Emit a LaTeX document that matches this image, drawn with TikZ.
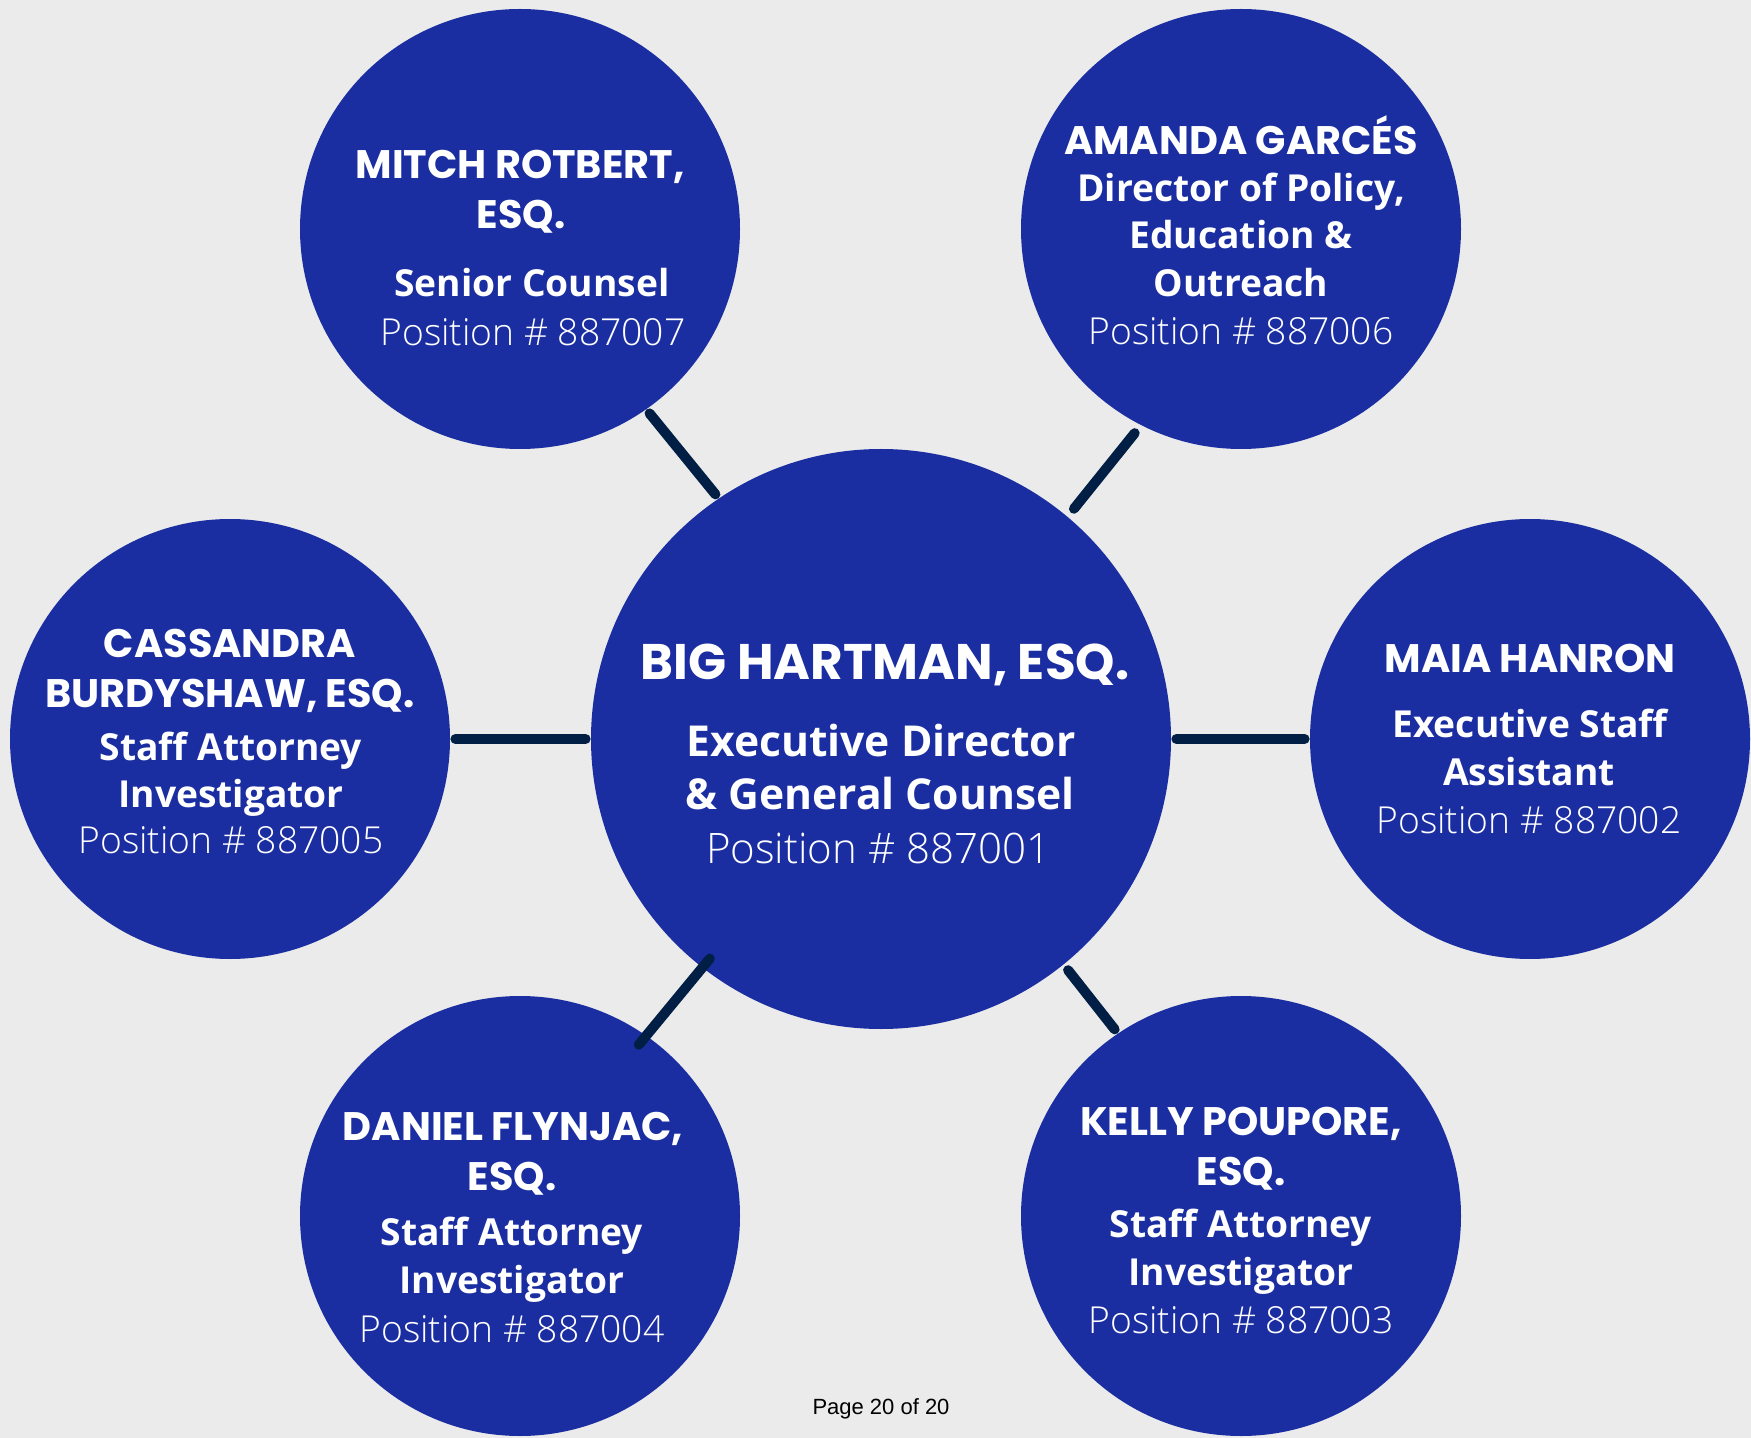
\documentclass[tikz,border=0pt]{standalone}
\usepackage{fontspec}
\setmainfont{Open Sans}
\newfontfamily\poppins{Poppins}[UprightFont=* Bold]
\newfontfamily\osbold{Open Sans}[UprightFont=* Bold]
\newfontfamily\oslight{Open Sans Light}
\newfontfamily\arialish{Liberation Sans}
\definecolor{bgc}{RGB}{235,235,235}
\definecolor{bub}{RGB}{27,46,161}
\definecolor{lnc}{RGB}{1,30,69}
\pgfdeclarelayer{bg}
\pgfsetlayers{bg,main}
\tikzset{
  bubble/.style={circle, fill=bub, draw=none, inner sep=0pt, minimum size=220pt},
  bigbubble/.style={bubble, minimum size=290pt},
  conn/.style={draw=lnc, line width=5pt, line cap=round},
  tx/.style={text=white, inner sep=0pt, anchor=base},
  nmS/.style={tx, font=\poppins\fontsize{19.9}{21}\selectfont},
  nmL/.style={tx, font=\poppins\fontsize{25}{26}\selectfont},
  tiS/.style={tx, font=\osbold\fontsize{18.6}{20}\selectfont},
  tiL/.style={tx, font=\osbold\fontsize{21.3}{22}\selectfont},
  poS/.style={tx, font=\oslight\fontsize{18.6}{20}\selectfont},
  poL/.style={tx, font=\oslight\fontsize{21}{22}\selectfont},
}
\begin{document}
\begin{tikzpicture}[x=0.5pt,y=-0.5pt]
\begin{pgfonlayer}{bg}
\fill[bgc] (0,0) rectangle (1751,1438);
\end{pgfonlayer}
\useasboundingbox (0,0) rectangle (1751,1438);

% bubbles
\node[bigbubble] (c) at (881,739) {};
\node[bubble] (m) at (520,229) {};
\node[bubble] (a) at (1241,229) {};
\node[bubble] (l) at (230,739) {};
\node[bubble] (r) at (1530,739) {};
\node[bubble] (d) at (520,1216) {};
\node[bubble] (k) at (1241,1216) {};

% connectors
\draw[conn, shorten <=2.5pt, shorten >=2.5pt] (c.124.6) -- (m.-55.5);
\draw[conn, shorten <=5pt, shorten >=5pt] (c.50.2) -- (a.243.6);
\draw[conn, shorten <=2.5pt, shorten >=2.5pt] (c.west) -- (l.east);
\draw[conn, shorten <=2.5pt, shorten >=2.5pt] (c.east) -- (r.west);
\draw[conn, shorten <=-6pt, shorten >=-6pt] (c.232.6) -- (d.55.2);
\draw[conn, shorten <=3.5pt, shorten >=2.5pt] (c.-51.2) -- (k.124.5);

% center
\node[nmL] (c1) at (885,679) {BIG HARTMAN, ESQ.};
\node[tiL] (c2) at (881,756) {Executive Director};
\node[tiL] (c3) at (880,809) {\& General Counsel};
\node[poL] (c4) at (878,863) {Position \# 887001};

% Mitch
\node[nmS] (m1) at (520,179) {MITCH ROTBERT,};
\node[nmS] (m2) at (521,229) {ESQ.};
\node[tiS] (m3) at (532,297) {Senior Counsel};
\node[poS] (m4) at (533,346) {Position \# 887007};

% Amanda
\node[nmS] (a1) at (1241,155) {AMANDA GARCÉS};
\node[tiS] (a2) at (1241,202) {Director of Policy,};
\node[tiS] (a3) at (1241,249) {Education \&};
\node[tiS] (a4) at (1241,297) {Outreach};
\node[poS] (a5) at (1241,345) {Position \# 887006};

% Cassandra
\node[nmS] (l1) at (230,658) {CASSANDRA};
\node[nmS] (l2) at (230,707) {BURDYSHAW, ESQ.};
\node[tiS] (l3) at (231,760) {Staff Attorney};
\node[tiS] (l4) at (231,807) {Investigator};
\node[poS] (l5) at (231,853) {Position \# 887005};

% Maia
\node[nmS] (r1) at (1530,673) {MAIA HANRON};
\node[tiS] (r2) at (1530,737) {Executive Staff};
\node[tiS] (r3) at (1529,785) {Assistant};
\node[poS] (r4) at (1529,833) {Position \# 887002};

% Daniel
\node[nmS] (d1) at (513,1140) {DANIEL FLYNJAC,};
\node[nmS] (d2) at (512,1190) {ESQ.};
\node[tiS] (d3) at (512,1245) {Staff Attorney};
\node[tiS] (d4) at (512,1293) {Investigator};
\node[poS] (d5) at (512,1342) {Position \# 887004};

% Kelly
\node[nmS] (k1) at (1241,1135) {KELLY POUPORE,};
\node[nmS] (k2) at (1241,1185) {ESQ.};
\node[tiS] (k3) at (1241,1237) {Staff Attorney};
\node[tiS] (k4) at (1241,1285) {Investigator};
\node[poS] (k5) at (1241,1333) {Position \# 887003};

% footer
\node[inner sep=0pt, anchor=base, font=\arialish\fontsize{11}{12}\selectfont, text=black] (pg) at (881,1414) {Page 20 of 20};
\end{tikzpicture}
\end{document}
